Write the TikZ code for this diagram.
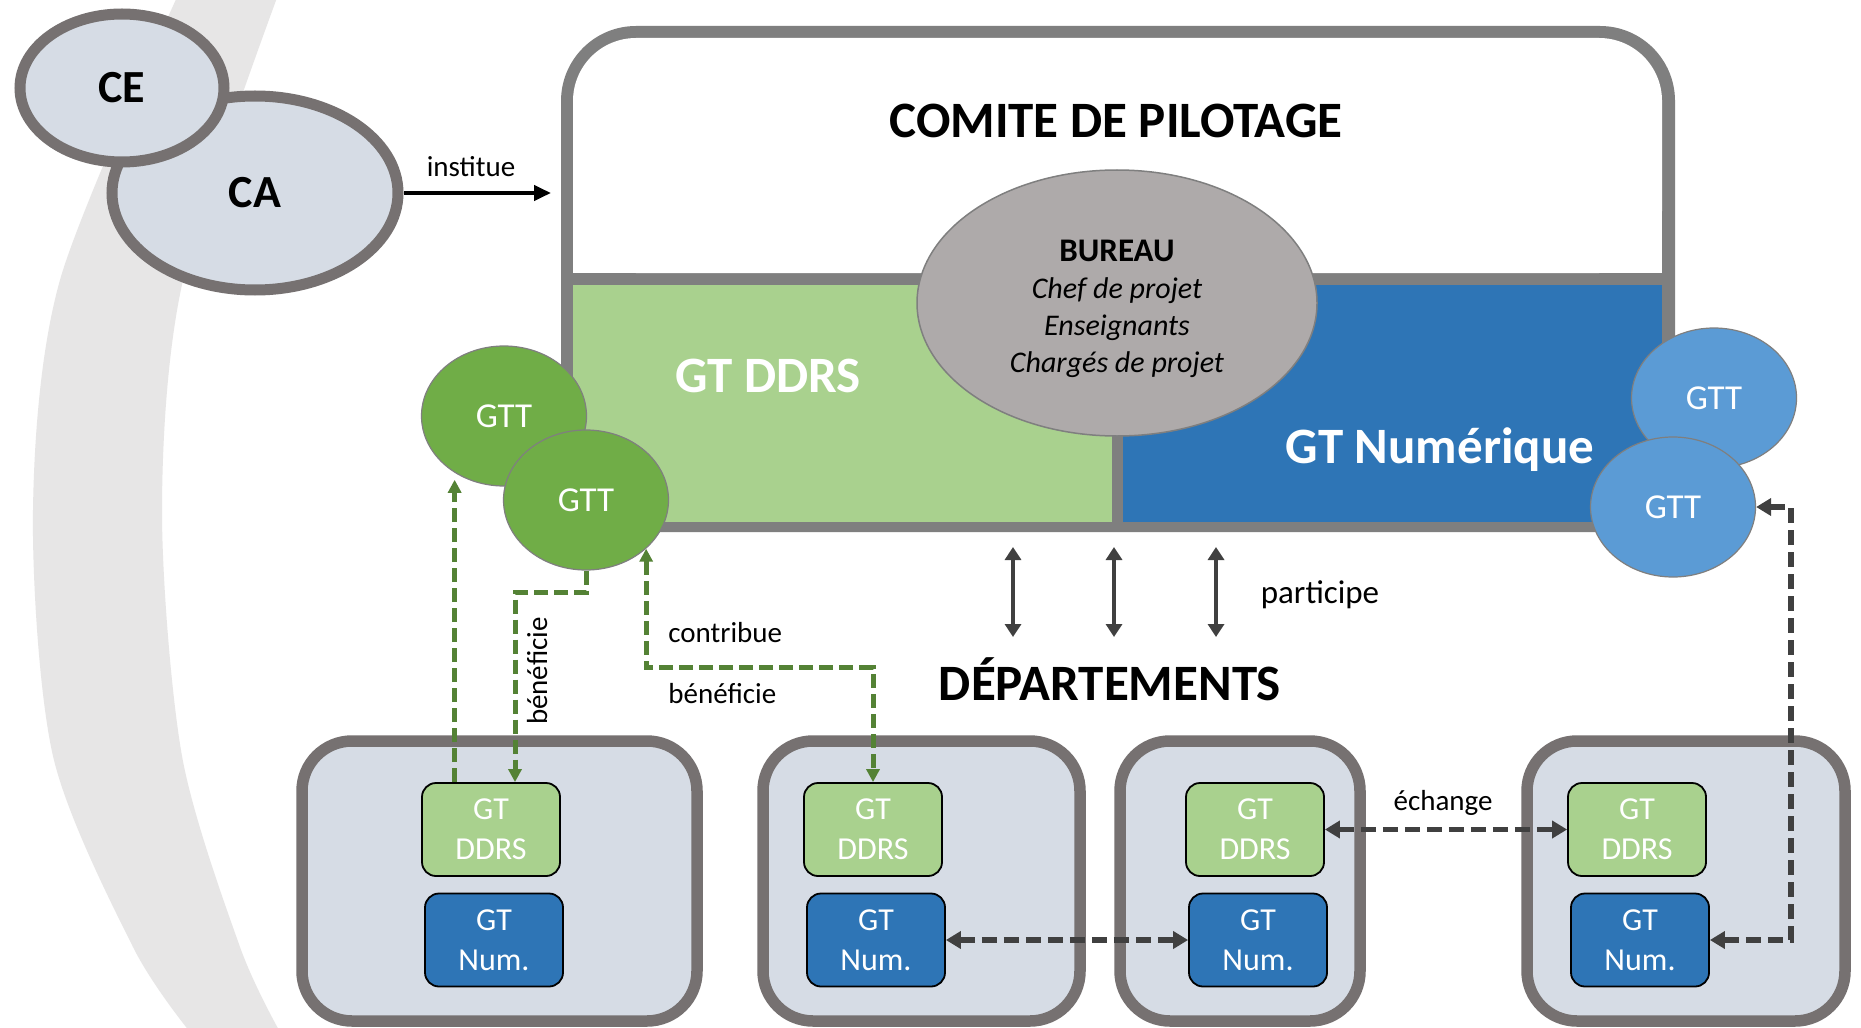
\documentclass[tikz,border=0pt]{standalone}
\usepackage{fontspec}
\setmainfont{Carlito}
\usetikzlibrary{arrows.meta}
\usetikzlibrary{shapes.geometric}

\definecolor{cadre}{RGB}{127,127,127}
\definecolor{bord}{RGB}{118,113,113}
\definecolor{fond}{RGB}{214,220,229}
\definecolor{vertddrs}{RGB}{169,209,142}
\definecolor{bleunum}{RGB}{46,117,182}
\definecolor{vertgtt}{RGB}{112,173,71}
\definecolor{bleugtt}{RGB}{91,155,213}
\definecolor{grisbureau}{RGB}{174,170,170}
\definecolor{vertfonce}{RGB}{84,130,53}
\definecolor{grisfonce}{RGB}{64,64,64}
\definecolor{grisarc}{RGB}{231,230,230}

\begin{document}
\begin{tikzpicture}[x=0.5pt,y=0.5pt,yscale=-1,xscale=1,
  instance/.style={ellipse, draw=bord, line width=5.5pt, fill=fond, inner sep=0pt, font=\fontsize{23}{27}\selectfont\bfseries},
  gtt/.style={ellipse, draw=cadre, line width=0.6pt, minimum width=82.5pt, minimum height=70pt, inner sep=0pt, text=white, font=\fontsize{17.5}{21}\selectfont},
  dept/.style={rectangle, draw=bord, line width=5.75pt, fill=fond, rounded corners=25pt, minimum height=140pt, inner sep=0pt},
  gtddrs/.style={rectangle, draw=black, line width=0.9pt, fill=vertddrs, rounded corners=7pt, minimum width=69pt, minimum height=46.5pt, inner sep=0pt, align=center, text=white, font=\fontsize{16}{20}\selectfont},
  gtnum/.style={gtddrs, fill=bleunum},
  titre/.style={font=\fontsize{25.5}{30}\selectfont\bfseries, inner sep=0pt},
  lien/.style={font=\fontsize{14.5}{17}\selectfont, inner sep=0pt},
  vdash/.style={draw=vertfonce, line width=2.5pt, dash pattern=on 7pt off 3pt, >={Triangle[length=6.5pt,width=6.5pt]}},
  gdash/.style={draw=grisfonce, line width=2.75pt, dash pattern=on 7.5pt off 3.5pt, >={Triangle[length=7.5pt,width=8.5pt]}},
  participe/.style={draw=grisfonce, line width=2pt, <->, >={Triangle[length=6.5pt,width=8pt]}},
  institue/.style={draw=black, line width=2pt, ->, >={Triangle[length=8.5pt,width=7.5pt]}}
]
\useasboundingbox (0,0) rectangle (1861,1027);
\fill[white] (0,0) rectangle (1861,1027);

%Shape: Arc (background)
\fill[grisarc] plot[smooth] coordinates {(178,-5) (60,280) (33,510) (53,756) (133,947) (190,1032)} -- plot[smooth] coordinates {(280,1032) (240,947) (182,756) (162,510) (183,280) (278,-5)} -- cycle;

%Shape: Ellipse
\node[instance, minimum width=143pt, minimum height=97pt] (ca) at (255,193) {CA};
%Shape: Ellipse
\node[instance, minimum width=102pt, minimum height=74pt] (ce) at (122,88) {CE};

%Shape: Rectangle (comite)
\fill[cadre, rounded corners=37.5pt] (561,26) rectangle (1675,532);
\fill[cadre] (561,200) rectangle (1675,532);
\fill[white, rounded corners=31.5pt] (573,38) rectangle (1662,273);
\fill[white] (573,150) rectangle (1662,273);
\fill[vertddrs] (573,285) rectangle (1112,522);
\fill[bleunum] (1123,285) rectangle (1662,522);
\coordinate (copilW) at (561,193);

% Text Node
\node[titre, anchor=base] (copil) at (1116,138) {COMITE DE PILOTAGE};
% Text Node
\node[titre, anchor=base, text=white] (tddrs) at (768,392) {GT DDRS};
% Text Node
\node[titre, anchor=base, text=white] (tnum) at (1440,463) {GT Numérique};

%Shape: Ellipse
\node[ellipse, draw=cadre, line width=0.75pt, fill=grisbureau, minimum width=200pt, minimum height=133pt] (bureau) at (1117,303) {};
% Text Node
\node[align=center, inner sep=0pt, font=\fontsize{15}{18.5}\selectfont\itshape] (bureautxt) at (1117,309) {{\upshape\bfseries\fontsize{16.5}{18.5}\selectfont BUREAU}\\Chef de projet\\Enseignants\\Chargés de projet};

%Shape: Ellipse
\node[gtt, fill=vertgtt] (gtt1) at (504,416) {GTT};
\node[gtt, fill=vertgtt] (gtt2) at (586,500) {GTT};
\node[gtt, fill=bleugtt] (gtt3) at (1714,398) {GTT};
\node[gtt, fill=bleugtt] (gtt4) at (1673,507) {GTT};

%Straight Lines
\draw[institue, shorten >=5pt] (ca) -- (copilW);
% Text Node
\node[lien, anchor=base] (linst) at (471,177) {institue};

%Straight Lines
\foreach \x [count=\i] in {1013,1114,1216}{
  \coordinate (haut\i) at (\x,547);
  \coordinate (bas\i) at (\x,637);
  \draw[participe] (haut\i) -- (bas\i);
}
% Text Node
\node[lien, anchor=base, font=\fontsize{16.5}{19}\selectfont] (lpart) at (1320,603) {participe};
% Text Node
\node[titre, anchor=base] (dep) at (1110,700) {DÉPARTEMENTS};

%Shape: Rectangle
\node[dept, minimum width=197.5pt] (dep1) at (499.5,881) {};
\node[dept, minimum width=158.5pt] (dep2) at (921.5,881) {};
\node[dept, minimum width=120pt] (dep3) at (1240,881) {};
\node[dept, minimum width=159pt] (dep4) at (1686,881) {};

%Shape: Rectangle
\node[gtddrs] (dd1) at (491,829.5) {GT\\DDRS};
\node[gtnum] (nm1) at (494,940) {GT\\Num.};
\node[gtddrs] (dd2) at (873,829.5) {GT\\DDRS};
\node[gtnum] (nm2) at (876,940) {GT\\Num.};
\node[gtddrs] (dd3) at (1255,829.5) {GT\\DDRS};
\node[gtnum] (nm3) at (1258,940) {GT\\Num.};
\node[gtddrs] (dd4) at (1637,829.5) {GT\\DDRS};
\node[gtnum] (nm4) at (1640,940) {GT\\Num.};

%Dashed Lines
\draw[vdash, ->, shorten >=3.5pt] (gtt1.229 |- dd1.north) -- (gtt1.229);
\draw[vdash, ->] (gtt2.south) -- ++(0,22) -| ([xshift=12pt]dd1.north);
\draw[vdash, <->] (gtt2.-39) -- ++(0,119) -| (dd2.north);
\draw[gdash, <->] (nm2) -- (nm3);
\draw[gdash, <->] (dd3) -- (dd4);
\draw[gdash, <->] (nm4.east) -- ++(81,0) |- (gtt4.east);

% Text Node
\node[lien, anchor=base, rotate=90] (lbenef1) at (547,671) {bénéficie};
% Text Node
\node[lien, anchor=base west] (lcontrib) at (668,642) {contribue};
% Text Node
\node[lien, anchor=base west] (lbenef2) at (668,703) {bénéficie};
% Text Node
\node[lien, anchor=base] (lech) at (1443,810) {échange};

\end{tikzpicture}
\end{document}
